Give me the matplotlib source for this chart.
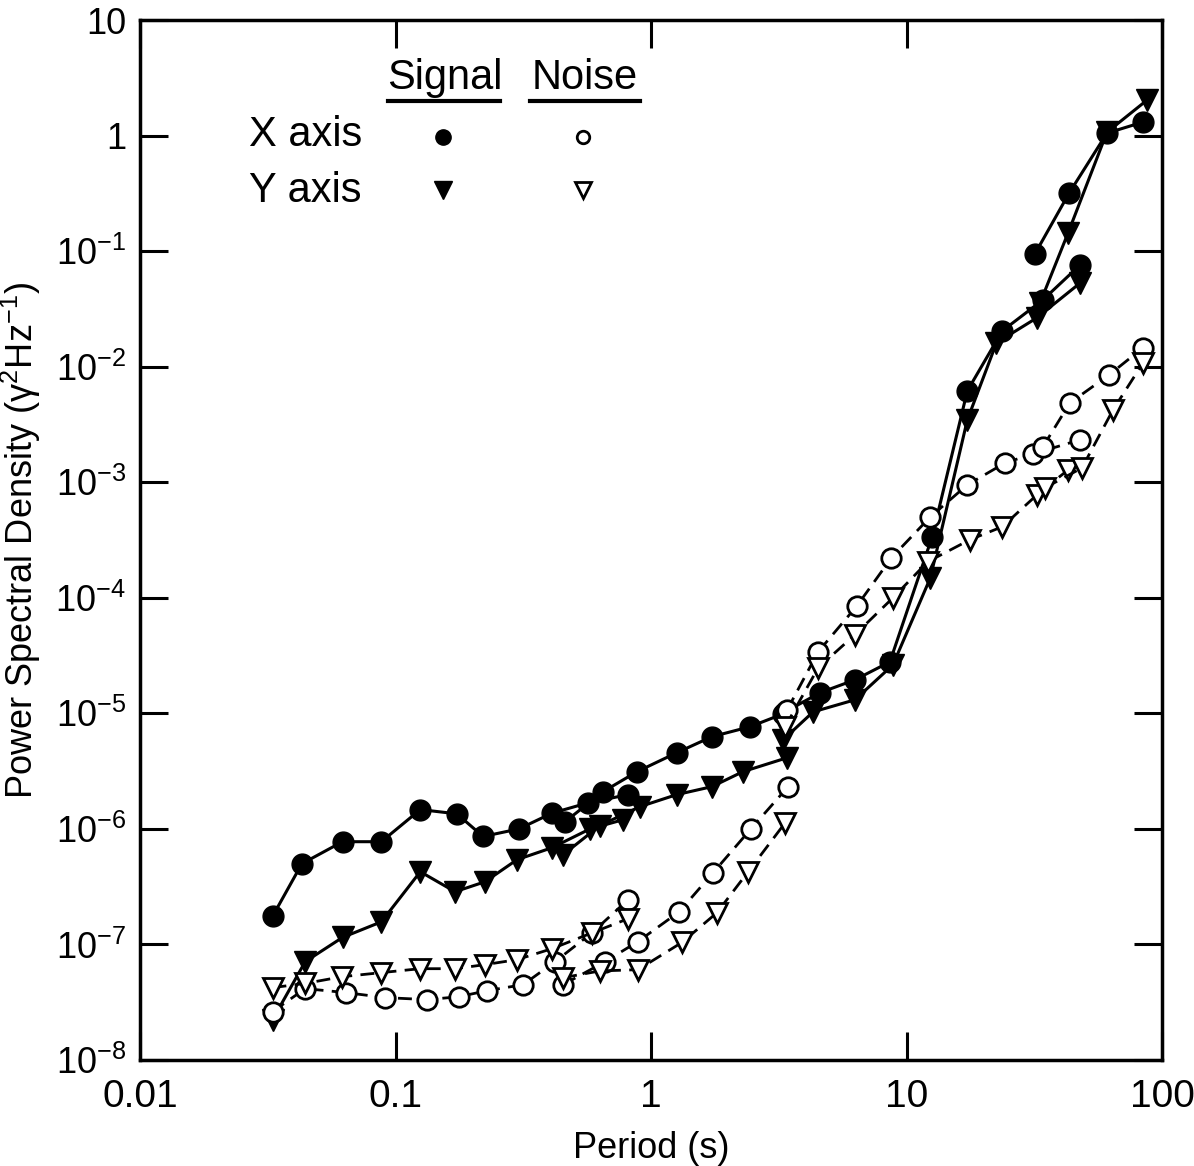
import matplotlib
matplotlib.use('Agg')
import matplotlib.pyplot as plt
import numpy as np

plt.rcParams['font.family'] = ['Liberation Sans', 'DejaVu Sans']
plt.rcParams['mathtext.fontset'] = 'custom'
plt.rcParams['mathtext.rm'] = 'Liberation Sans'
plt.rcParams['mathtext.it'] = 'Liberation Sans:italic'
plt.rcParams['mathtext.default'] = 'regular'

# X axis signal, four period bands
xs_p1 = [0.033, 0.043, 0.062, 0.088, 0.125, 0.174, 0.22, 0.304, 0.41, 0.566, 0.813]
xs_v1 = [1.75e-7, 5.0e-7, 7.75e-7, 7.75e-7, 1.47e-6, 1.35e-6, 8.6e-7, 1.0e-6, 1.37e-6, 1.68e-6, 1.98e-6]
xs_p2 = [0.46, 0.649, 0.882, 1.26, 1.73, 2.44, 3.29]
xs_v2 = [1.15e-6, 2.1e-6, 3.13e-6, 4.56e-6, 6.28e-6, 7.66e-6, 9.9e-6]
xs_p3 = [3.35, 4.59, 6.28, 8.61, 12.6, 17.3, 23.7, 34.2, 47.8]
xs_v3 = [1.03e-5, 1.51e-5, 1.95e-5, 2.79e-5, 3.37e-4, 6.18e-3, 2.04e-2, 3.79e-2, 7.6e-2]
xs_p4 = [31.8, 43.3, 60.9, 84.3]
xs_v4 = [9.46e-2, 0.318, 1.05, 1.31]

# Y axis signal
ys_p1 = [0.033, 0.0443, 0.062, 0.088, 0.125, 0.171, 0.224, 0.299, 0.41, 0.577, 0.777]
ys_v1 = [2.23e-8, 7.1e-8, 1.15e-7, 1.57e-7, 4.26e-7, 2.86e-7, 3.49e-7, 5.42e-7, 6.88e-7, 1.0e-6, 1.2e-6]
ys_p2 = [0.453, 0.631, 0.906, 1.26, 1.73, 2.29, 3.41]
ys_v2 = [5.98e-7, 1.07e-6, 1.56e-6, 1.98e-6, 2.32e-6, 3.13e-6, 4.13e-6]
ys_p3 = [3.29, 4.31, 6.28, 8.85, 12.4, 17.3, 22.5, 32.3, 47.8]
ys_v3 = [5.91e-6, 1.03e-5, 1.31e-5, 2.63e-5, 1.49e-4, 3.47e-3, 1.61e-2, 2.64e-2, 5.3e-2]
ys_p4 = [33.3, 42.9, 60.9, 87.4]
ys_v4 = [3.56e-2, 0.144, 1.07, 2.03]

# X axis noise
xn_p1 = [0.033, 0.0443, 0.064, 0.091, 0.133, 0.177, 0.228, 0.316, 0.421, 0.587, 0.813]
xn_v1 = [2.62e-8, 4.15e-8, 3.83e-8, 3.47e-8, 3.33e-8, 3.53e-8, 3.98e-8, 4.49e-8, 7.1e-8, 1.26e-7, 2.44e-7]
xn_p2 = [0.453, 0.661, 0.889, 1.29, 1.75, 2.46, 3.44]
xn_v2 = [4.49e-8, 7.1e-8, 1.06e-7, 1.92e-7, 4.18e-7, 1.0e-6, 2.32e-6]
xn_p3 = [3.41, 4.51, 6.4, 8.73, 12.4, 17.3, 24.3, 31.3, 47.8]
xn_v3 = [1.07e-5, 3.41e-5, 8.53e-5, 2.22e-4, 5.02e-4, 9.5e-4, 1.47e-3, 1.76e-3, 2.33e-3]
xn_p4 = [34.2, 43.6, 62.1, 84.3]
xn_v4 = [2.03e-3, 4.86e-3, 8.5e-3, 1.46e-2]

# Y axis noise
yn_p1 = [0.033, 0.0443, 0.0618, 0.0877, 0.1247, 0.171, 0.224, 0.299, 0.41, 0.587, 0.813]
yn_v1 = [4.23e-8, 4.6e-8, 5.26e-8, 5.7e-8, 6.17e-8, 6.17e-8, 6.69e-8, 7.39e-8, 9.2e-8, 1.26e-7, 1.67e-7]
yn_p2 = [0.453, 0.631, 0.889, 1.32, 1.81, 2.40, 3.35]
yn_v2 = [5.16e-8, 5.9e-8, 6.05e-8, 1.04e-7, 1.88e-7, 4.26e-7, 1.13e-6]
yn_p3 = [3.35, 4.51, 6.28, 8.85, 12.1, 17.7, 23.7, 32.4, 42.9]
yn_v3 = [7.66e-6, 2.48e-5, 4.79e-5, 1.0e-4, 2.05e-4, 3.18e-4, 4.12e-4, 7.78e-4, 1.28e-3]
yn_p4 = [34.8, 48.6, 64.3, 84.3]
yn_v4 = [8.95e-4, 1.33e-3, 4.23e-3, 1.08e-2]

x_ticks = [0.01, 0.1, 1, 10, 100]
x_labels = ['0.01', '0.1', '1', '10', '100']
y_ticks = [1e-8, 1e-7, 1e-6, 1e-5, 1e-4, 1e-3, 1e-2, 1e-1, 1, 10]
y_labels = ['$10^{-8}$', '$10^{-7}$', '$10^{-6}$', '$10^{-5}$', '$10^{-4}$',
            '$10^{-3}$', '$10^{-2}$', '$10^{-1}$', '1', '10']

fig = plt.figure(figsize=(11.94, 11.66), dpi=100)
ax = fig.add_axes([0.1173, 0.0909, 0.8559, 0.8919])
ax.set_xscale('log')
ax.set_yscale('log')

sig = dict(color='black', lw=2.2, ls='-', mfc='black', mec='black', zorder=3)
noi = dict(color='black', lw=2.0, ls=(0, (5, 3)), mfc='white', mec='black', mew=2.0, zorder=4)

for p, v in [(xs_p1, xs_v1), (xs_p2, xs_v2), (xs_p3, xs_v3), (xs_p4, xs_v4)]:
    ax.plot(p, v, marker='o', ms=15, **sig)
for p, v in [(ys_p1, ys_v1), (ys_p2, ys_v2), (ys_p3, ys_v3), (ys_p4, ys_v4)]:
    ax.plot(p, v, marker='v', ms=16, **sig)
for p, v in [(xn_p1, xn_v1), (xn_p2, xn_v2), (xn_p3, xn_v3), (xn_p4, xn_v4)]:
    ax.plot(p, v, marker='o', ms=14, **noi)
for p, v in [(yn_p1, yn_v1), (yn_p2, yn_v2), (yn_p3, yn_v3), (yn_p4, yn_v4)]:
    ax.plot(p, v, marker='v', ms=15, **noi)

ax.set_xlim(0.01, 100)
ax.set_ylim(1e-8, 10)
ax.set_xticks(x_ticks)
ax.set_xticklabels(x_labels)
ax.set_yticks(y_ticks)
ax.set_yticklabels(y_labels)
ax.minorticks_off()
ax.tick_params(which='major', direction='in', length=20, width=2.2,
               top=True, right=True, labelsize=26)
ax.tick_params(axis='x', pad=14, labelsize=28)
ax.tick_params(axis='y', pad=10)
for s in ax.spines.values():
    s.set_linewidth(2.5)

ax.set_xlabel('Period (s)', fontsize=26)
ax.xaxis.set_label_coords(0.5, -0.068)
ax.set_ylabel(r'Power Spectral Density ($\gamma^{2}$Hz$^{-1}$)', fontsize=26)
ax.yaxis.set_label_coords(-0.095, 0.5)

# key drawn inside the axes
tr = ax.transAxes
ax.text(0.298, 0.944, 'Signal', transform=tr, fontsize=30, ha='center', va='center')
ax.text(0.435, 0.944, 'Noise', transform=tr, fontsize=30, ha='center', va='center')
ax.plot([0.243, 0.352], [0.922, 0.922], transform=tr, color='black', lw=3)
ax.plot([0.382, 0.489], [0.922, 0.922], transform=tr, color='black', lw=3)
ax.text(0.107, 0.889, 'X axis', transform=tr, fontsize=30, ha='left', va='center')
ax.text(0.107, 0.836, 'Y axis', transform=tr, fontsize=30, ha='left', va='center')
ax.plot([0.2965], [0.8875], 'o', ms=11, color='black', transform=tr)
ax.plot([0.4335], [0.8875], 'o', ms=9, mfc='white', mec='black', mew=2, transform=tr)
ax.plot([0.2965], [0.8365], 'v', ms=13, color='black', transform=tr)
ax.plot([0.4335], [0.8365], 'v', ms=11, mfc='white', mec='black', mew=2, transform=tr)

fig.savefig('out.png', dpi=100)
